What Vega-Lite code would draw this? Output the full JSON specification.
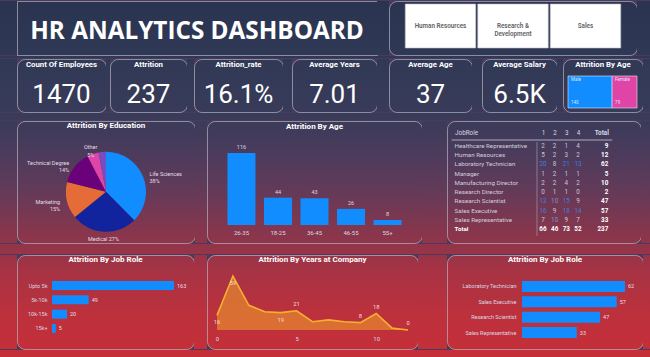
{
"$schema": "https://vega.github.io/schema/vega-lite/v6.json",
"padding": 0,
"background": "#4a3b5c",
"spacing": 0,
"resolve": {"scale": {"color": "independent", "x": "independent", "y": "independent"}},
"config": {
  "font": "Roboto",
  "view": {"stroke": "#ffffff", "strokeOpacity": 0.42, "strokeWidth": 1, "cornerRadius": 8},
  "axis": {"domain": false, "ticks": false, "grid": false, "labelColor": "#d8d8e2", "labelFontSize": 6, "labelFont": "Roboto"},
  "title": {"color": "#ffffff", "fontSize": 8, "fontWeight": "bold", "font": "Roboto", "anchor": "middle", "baseline": "middle", "frame": "group"},
  "text": {"color": "#d8d8e2", "fontSize": 6, "font": "Roboto"}
},
"vconcat": [
  {"spacing": 0, "bounds": "flush", "resolve": {"scale": {"color": "independent", "x": "independent", "y": "independent"}}, "hconcat": [
    {"width": 17, "height": 54, "data": {"values": []}, "mark": "point", "view": {"stroke": null, "cornerRadius": 0, "fill": {"gradient":"linear","x1":0,"y1":0,"x2":0,"y2":1,"stops":[{"offset":0,"color":"#2a3450"},{"offset":1,"color":"#2f3854"}]}}},
    {"width": 360, "height": 54, "view": {"stroke": "#ffffff", "strokeOpacity": 0.42, "fill": {"gradient":"linear","x1":0,"y1":0,"x2":0,"y2":1,"stops":[{"offset":0,"color":"#2a3450"},{"offset":1,"color":"#2f3854"}]}},
     "data": {"values": [{"title": "HR ANALYTICS DASHBOARD"}]},
     "layer": [{"mark": {"type": "text", "font": "Open Sans", "fontSize": 24.3, "fontWeight": "bold", "color": "#ffffff", "baseline": "middle", "dy": 4},
     "encoding": {"text": {"field": "title"}}}]},
    {"width": 12, "height": 54, "data": {"values": []}, "mark": "point", "view": {"stroke": null, "cornerRadius": 0, "fill": {"gradient":"linear","x1":0,"y1":0,"x2":0,"y2":1,"stops":[{"offset":0,"color":"#2a3450"},{"offset":1,"color":"#2f3854"}]}}},
    {"width": 248, "height": 54, "view": {"fill": {"gradient":"linear","x1":0,"y1":0,"x2":0,"y2":1,"stops":[{"offset":0,"color":"#2a3450"},{"offset":1,"color":"#2f3854"}]}},
     "data": {"values": [
       {"department": "Human Resources", "label": "Human Resources"},
       {"department": "Research & Development", "label": "Research &\nDevelopment"},
       {"department": "Sales", "label": "Sales"}]},
     "encoding": {
       "x": {"field": "department", "type": "nominal", "sort": null, "scale": {"paddingInner": 0.0276, "paddingOuter": 0.224}, "axis": null},
       "y": {"datum": "slicer", "type": "nominal", "scale": {"paddingInner": 0, "paddingOuter": 0.1136, "align": 0.3}, "axis": null}},
     "layer": [
       {"mark": {"type": "rect", "fill": "#ffffff", "stroke": "#b8bcc6", "strokeWidth": 0.6}},
       {"mark": {"type": "text", "lineBreak": "\n", "fontSize": 6.3, "fontWeight": 600, "color": "#5f5f66"}, "encoding": {"text": {"field": "label"}}}
     ]},
    {"width": 13, "height": 54, "data": {"values": []}, "mark": "point", "view": {"stroke": null, "cornerRadius": 0, "fill": {"gradient":"linear","x1":0,"y1":0,"x2":0,"y2":1,"stops":[{"offset":0,"color":"#2a3450"},{"offset":1,"color":"#2f3854"}]}}}
  ]},
  {"width": 650, "height": 2, "data": {"values": []}, "mark": "point", "view": {"stroke": null, "cornerRadius": 0, "fill": "#2f3854"}},
  {"spacing": 0, "bounds": "flush", "resolve": {"scale": {"color": "independent", "x": "independent", "y": "independent"}}, "hconcat": [
    {"width": 17, "height": 53, "data": {"values": []}, "mark": "point", "view": {"stroke": null, "cornerRadius": 0, "fill": {"gradient":"linear","x1":0,"y1":0,"x2":0,"y2":1,"stops":[{"offset":0,"color":"#303955"},{"offset":1,"color":"#383b59"}]}}},
    {"width": 89, "height": 53, "view": {"stroke": "#ffffff", "strokeOpacity": 0.42, "fill": {"gradient":"linear","x1":0,"y1":0,"x2":0,"y2":1,"stops":[{"offset":0,"color":"#303955"},{"offset":1,"color":"#383b59"}]}},
     "title": {"text": "Count Of Employees", "offset": -9.5, "fontSize": 7.8},
     "data": {"values": [{"measure": "Count Of Employees", "value": 1470}]},
     "layer": [{"mark": {"type": "text", "fontSize": 26, "color": "#ffffff", "baseline": "alphabetic", "dy": 17.5},
     "encoding": {"y": {"datum": "kpi", "type": "nominal", "axis": null}, "text": {"field": "value", "type": "quantitative", "format": "d"}}}]},
    {"width": 4, "height": 53, "data": {"values": []}, "mark": "point", "view": {"stroke": null, "cornerRadius": 0, "fill": {"gradient":"linear","x1":0,"y1":0,"x2":0,"y2":1,"stops":[{"offset":0,"color":"#303955"},{"offset":1,"color":"#383b59"}]}}},
    {"width": 77, "height": 53, "view": {"stroke": "#ffffff", "strokeOpacity": 0.42, "fill": {"gradient":"linear","x1":0,"y1":0,"x2":0,"y2":1,"stops":[{"offset":0,"color":"#303955"},{"offset":1,"color":"#383b59"}]}},
     "title": {"text": "Attrition", "offset": -9.5, "fontSize": 7.8},
     "data": {"values": [{"measure": "Attrition", "value": 237}]},
     "layer": [{"mark": {"type": "text", "fontSize": 26, "color": "#ffffff", "baseline": "alphabetic", "dy": 17.5},
     "encoding": {"y": {"datum": "kpi", "type": "nominal", "axis": null}, "text": {"field": "value", "type": "quantitative", "format": "d"}}}]},
    {"width": 7, "height": 53, "data": {"values": []}, "mark": "point", "view": {"stroke": null, "cornerRadius": 0, "fill": {"gradient":"linear","x1":0,"y1":0,"x2":0,"y2":1,"stops":[{"offset":0,"color":"#303955"},{"offset":1,"color":"#383b59"}]}}},
    {"width": 89, "height": 53, "view": {"stroke": "#ffffff", "strokeOpacity": 0.42, "fill": {"gradient":"linear","x1":0,"y1":0,"x2":0,"y2":1,"stops":[{"offset":0,"color":"#303955"},{"offset":1,"color":"#383b59"}]}},
     "title": {"text": "Attrition_rate", "offset": -9.5, "fontSize": 7.8},
     "data": {"values": [{"measure": "Attrition_rate", "value": 0.161}]},
     "layer": [{"mark": {"type": "text", "fontSize": 26, "color": "#ffffff", "baseline": "alphabetic", "dy": 17.5},
     "encoding": {"y": {"datum": "kpi", "type": "nominal", "axis": null}, "text": {"field": "value", "type": "quantitative", "format": ".1%"}}}]},
    {"width": 9, "height": 53, "data": {"values": []}, "mark": "point", "view": {"stroke": null, "cornerRadius": 0, "fill": {"gradient":"linear","x1":0,"y1":0,"x2":0,"y2":1,"stops":[{"offset":0,"color":"#303955"},{"offset":1,"color":"#383b59"}]}}},
    {"width": 85, "height": 53, "view": {"stroke": "#ffffff", "strokeOpacity": 0.42, "fill": {"gradient":"linear","x1":0,"y1":0,"x2":0,"y2":1,"stops":[{"offset":0,"color":"#303955"},{"offset":1,"color":"#383b59"}]}},
     "title": {"text": "Average Years", "offset": -9.5, "fontSize": 7.8},
     "data": {"values": [{"measure": "Average Years", "value": 7.01}]},
     "layer": [{"mark": {"type": "text", "fontSize": 26, "color": "#ffffff", "baseline": "alphabetic", "dy": 17.5},
     "encoding": {"y": {"datum": "kpi", "type": "nominal", "axis": null}, "text": {"field": "value", "type": "quantitative", "format": ".2f"}}}]},
    {"width": 12, "height": 53, "data": {"values": []}, "mark": "point", "view": {"stroke": null, "cornerRadius": 0, "fill": {"gradient":"linear","x1":0,"y1":0,"x2":0,"y2":1,"stops":[{"offset":0,"color":"#303955"},{"offset":1,"color":"#383b59"}]}}},
    {"width": 83, "height": 53, "view": {"stroke": "#ffffff", "strokeOpacity": 0.42, "fill": {"gradient":"linear","x1":0,"y1":0,"x2":0,"y2":1,"stops":[{"offset":0,"color":"#303955"},{"offset":1,"color":"#383b59"}]}},
     "title": {"text": "Average Age", "offset": -9.5, "fontSize": 7.8},
     "data": {"values": [{"measure": "Average Age", "value": 37}]},
     "layer": [{"mark": {"type": "text", "fontSize": 26, "color": "#ffffff", "baseline": "alphabetic", "dy": 17.5},
     "encoding": {"y": {"datum": "kpi", "type": "nominal", "axis": null}, "text": {"field": "value", "type": "quantitative", "format": "d"}}}]},
    {"width": 10, "height": 53, "data": {"values": []}, "mark": "point", "view": {"stroke": null, "cornerRadius": 0, "fill": {"gradient":"linear","x1":0,"y1":0,"x2":0,"y2":1,"stops":[{"offset":0,"color":"#303955"},{"offset":1,"color":"#383b59"}]}}},
    {"width": 75, "height": 53, "view": {"stroke": "#ffffff", "strokeOpacity": 0.42, "fill": {"gradient":"linear","x1":0,"y1":0,"x2":0,"y2":1,"stops":[{"offset":0,"color":"#303955"},{"offset":1,"color":"#383b59"}]}},
     "title": {"text": "Average Salary", "offset": -9.5, "fontSize": 7.8},
     "data": {"values": [{"measure": "Average Salary", "value": 6500}]},
     "layer": [{"mark": {"type": "text", "fontSize": 26, "color": "#ffffff", "baseline": "alphabetic", "dy": 17.5, "text": {"expr": "upper(format(datum.value, '.2~s'))"}},
     "encoding": {"y": {"datum": "kpi", "type": "nominal", "axis": null}}}]},
    {"width": 6, "height": 53, "data": {"values": []}, "mark": "point", "view": {"stroke": null, "cornerRadius": 0, "fill": {"gradient":"linear","x1":0,"y1":0,"x2":0,"y2":1,"stops":[{"offset":0,"color":"#303955"},{"offset":1,"color":"#383b59"}]}}},
    {"width": 80, "height": 53, "view": {"fill": {"gradient":"linear","x1":0,"y1":0,"x2":0,"y2":1,"stops":[{"offset":0,"color":"#303955"},{"offset":1,"color":"#383b59"}]}},
     "title": {"text": "Attrition By Age", "offset": -9.5, "fontSize": 7.8},
     "data": {"values": [{"gender": "Male", "attrition": 140}, {"gender": "Female", "attrition": 79}]},
     "transform": [{"stack": "attrition", "groupby": [], "sort": [{"field": "gender", "order": "descending"}], "as": ["x0", "x1"]}],
     "encoding": {
       "y": {"datum": "Attrition", "type": "nominal", "scale": {"paddingInner": 0, "paddingOuter": 0.328, "align": 0.81}, "axis": null},
       "x": {"field": "x0", "type": "quantitative", "scale": {"domain": [-15.9, 238], "nice": false, "zero": false}, "axis": null}},
     "layer": [
       {"mark": {"type": "bar", "stroke": "#e8e8f0", "strokeWidth": 0.6}, "encoding": {"x2": {"field": "x1"}, "color": {"field": "gender", "type": "nominal", "scale": {"domain": ["Male", "Female"], "range": ["#118DFF", "#E044A7"]}, "legend": null}}},
       {"mark": {"type": "text", "align": "left", "dx": 3, "dy": -12, "fontSize": 4.5, "color": "#dce8ff"}, "encoding": {"text": {"field": "gender"}}},
       {"mark": {"type": "text", "align": "left", "dx": 3, "dy": 11, "fontSize": 4.5, "color": "#dce8ff"}, "encoding": {"text": {"field": "attrition"}}}
     ]},
    {"width": 7, "height": 53, "data": {"values": []}, "mark": "point", "view": {"stroke": null, "cornerRadius": 0, "fill": {"gradient":"linear","x1":0,"y1":0,"x2":0,"y2":1,"stops":[{"offset":0,"color":"#303955"},{"offset":1,"color":"#383b59"}]}}}
  ]},
  {"width": 650, "height": 7, "data": {"values": []}, "mark": "point", "view": {"stroke": null, "cornerRadius": 0, "fill": {"gradient":"linear","x1":0,"y1":0,"x2":0,"y2":1,"stops":[{"offset":0,"color":"#383b59"},{"offset":1,"color":"#3b3b5a"}]}}},
  {"spacing": 0, "bounds": "flush", "resolve": {"scale": {"color": "independent", "x": "independent", "y": "independent"}}, "hconcat": [
    {"width": 17, "height": 122, "data": {"values": []}, "mark": "point", "view": {"stroke": null, "cornerRadius": 0, "fill": {"gradient":"linear","x1":0,"y1":0,"x2":0,"y2":1,"stops":[{"offset":0,"color":"#3b3b5a"},{"offset":0.238,"color":"#4a3b5c"},{"offset":0.566,"color":"#633a59"},{"offset":0.893,"color":"#86364d"},{"offset":1,"color":"#90354a"}]}}},
    {"width": 178, "height": 122, "view": {"stroke": "#ffffff", "strokeOpacity": 0.42, "fill": {"gradient":"linear","x1":0,"y1":0,"x2":0,"y2":1,"stops":[{"offset":0,"color":"#3b3b5a"},{"offset":0.238,"color":"#4a3b5c"},{"offset":0.566,"color":"#633a59"},{"offset":0.893,"color":"#86364d"},{"offset":1,"color":"#90354a"}]}},
     "title": {"text": "Attrition By Education", "offset": -8.5},
     "data": {"values": [
       {"education": "Life Sciences", "attrition": 89, "label": "Life Sciences\n38%"},
       {"education": "Medical", "attrition": 63, "label": "Medical 27%"},
       {"education": "Marketing", "attrition": 35, "label": "Marketing\n15%"},
       {"education": "Technical Degree", "attrition": 32, "label": "Technical Degree\n14%"},
       {"education": "Other", "attrition": 11, "label": "Other\n5%"},
       {"education": "Human Resources", "attrition": 7, "label": ""}]},
     "encoding": {
       "y": {"datum": "pie", "type": "nominal", "scale": {"paddingInner": 0, "paddingOuter": 0.5, "align": 0.58}, "axis": null},
       "theta": {"field": "attrition", "type": "quantitative", "stack": true},
       "order": {"field": "attrition", "type": "quantitative", "sort": "descending"}},
     "layer": [
       {"mark": {"type": "arc", "outerRadius": 40},
        "encoding": {"color": {"field": "education", "type": "nominal", "scale": {"domain": ["Life Sciences", "Medical", "Marketing", "Technical Degree", "Other", "Human Resources"], "range": ["#118DFF", "#12239E", "#E66C37", "#6B007B", "#E044A7", "#744EC2"]}, "legend": null}}},
       {"mark": {"type": "text", "radius": 47, "lineBreak": "\n", "fontSize": 5.5, "color": "#e2dde8", "baseline": "middle",
          "align": {"expr": "(datum.attrition_start + datum.attrition_end) / 474 < 0.45 ? 'left' : ((datum.attrition_start + datum.attrition_end) / 474 < 0.56 ? 'center' : ((datum.attrition_start + datum.attrition_end) / 474 < 0.9 ? 'right' : 'center'))"}},
        "encoding": {"text": {"field": "label"}}}
     ]},
    {"width": 12, "height": 122, "data": {"values": []}, "mark": "point", "view": {"stroke": null, "cornerRadius": 0, "fill": {"gradient":"linear","x1":0,"y1":0,"x2":0,"y2":1,"stops":[{"offset":0,"color":"#3b3b5a"},{"offset":0.238,"color":"#4a3b5c"},{"offset":0.566,"color":"#633a59"},{"offset":0.893,"color":"#86364d"},{"offset":1,"color":"#90354a"}]}}},
    {"width": 215, "height": 122, "view": {"fill": {"gradient":"linear","x1":0,"y1":0,"x2":0,"y2":1,"stops":[{"offset":0,"color":"#3b3b5a"},{"offset":0.238,"color":"#4a3b5c"},{"offset":0.566,"color":"#633a59"},{"offset":0.893,"color":"#86364d"},{"offset":1,"color":"#90354a"}]}},
     "title": {"text": "Attrition By Age", "offset": -10},
     "data": {"values": [
       {"age": "18-25", "attrition": 44}, {"age": "26-35", "attrition": 116}, {"age": "36-45", "attrition": 43},
       {"age": "46-55", "attrition": 26}, {"age": "55+", "attrition": 8}]},
     "encoding": {
       "x": {"field": "age", "type": "nominal", "sort": "-y", "scale": {"paddingInner": 0.233, "paddingOuter": 0.56}, "axis": {"title": null, "labelAngle": 0, "offset": -16, "labelPadding": 2}},
       "y": {"field": "attrition", "type": "quantitative", "scale": {"domain": [-29, 167.5], "nice": false}, "axis": null}},
     "layer": [
       {"mark": {"type": "bar", "color": "#118DFF"}},
       {"mark": {"type": "text", "dy": -3, "baseline": "bottom", "fontSize": 5.5, "color": "#dcd8e2"}, "encoding": {"text": {"field": "attrition"}}}
     ]},
    {"width": 25, "height": 122, "data": {"values": []}, "mark": "point", "view": {"stroke": null, "cornerRadius": 0, "fill": {"gradient":"linear","x1":0,"y1":0,"x2":0,"y2":1,"stops":[{"offset":0,"color":"#3b3b5a"},{"offset":0.238,"color":"#4a3b5c"},{"offset":0.566,"color":"#633a59"},{"offset":0.893,"color":"#86364d"},{"offset":1,"color":"#90354a"}]}}},
    {"width": 194, "height": 122, "view": {"fill": {"gradient":"linear","x1":0,"y1":0,"x2":0,"y2":1,"stops":[{"offset":0,"color":"#3b3b5a"},{"offset":0.238,"color":"#4a3b5c"},{"offset":0.566,"color":"#633a59"},{"offset":0.893,"color":"#86364d"},{"offset":1,"color":"#90354a"}]}},
     "data": {"values": [
       {"role": "Healthcare Representative", "1": 2, "2": 2, "3": 1, "4": 4, "Total": 9},
       {"role": "Human Resources", "1": 5, "2": 2, "3": 3, "4": 2, "Total": 12},
       {"role": "Laboratory Technician", "1": 20, "2": 8, "3": 21, "4": 13, "Total": 62},
       {"role": "Manager", "1": 1, "2": 2, "3": 1, "4": 1, "Total": 5},
       {"role": "Manufacturing Director", "1": 2, "2": 2, "3": 4, "4": 2, "Total": 10},
       {"role": "Research Director", "1": 0, "2": 1, "3": 1, "4": 0, "Total": 2},
       {"role": "Research Scientist", "1": 13, "2": 10, "3": 15, "4": 9, "Total": 47},
       {"role": "Sales Executive", "1": 16, "2": 9, "3": 18, "4": 14, "Total": 57},
       {"role": "Sales Representative", "1": 7, "2": 10, "3": 9, "4": 7, "Total": 33},
       {"role": "Total", "1": 66, "2": 46, "3": 73, "4": 52, "Total": 237}]},
     "encoding": {
       "x": {"field": "col", "type": "nominal",
             "scale": {"type": "point", "domain": ["JobRole", "_a", "_b", "_c", "_d", "_e", "_f", "_g", "1", "2", "3", "4", "_h", "Total"], "padding": 0, "range": [2.6, 154.3]},
             "axis": {"orient": "top", "offset": -19, "labelPadding": 5, "labelAngle": 0, "title": null, "labelOverlap": false, "labelBound": false, "labelFontSize": 6.3, "labelColor": "#d8d8e0",
                      "labelExpr": "indexof(datum.value, '_') == 0 ? '' : datum.value",
                      "labelAlign": {"condition": {"test": "datum.value == 'JobRole'", "value": "left"}, "value": "center"},
                      "labelOffset": {"condition": {"test": "datum.value == 'JobRole'", "value": 5}, "value": 0},
                      "labelFontWeight": {"condition": {"test": "datum.value == 'Total'", "value": "bold"}, "value": "normal"}}},
       "y": {"field": "role", "type": "nominal",
             "scale": {"type": "point", "domain": ["Healthcare Representative", "Human Resources", "Laboratory Technician", "Manager", "Manufacturing Director", "Research Director", "Research Scientist", "Sales Executive", "Sales Representative", "Total"], "padding": 0, "range": [25, 108]},
             "axis": null}},
     "layer": [
       {"data": {"values": [{"line": "header"}]},
        "mark": {"type": "rule", "color": "#c8c8d2", "strokeWidth": 0.8, "xOffset": 2, "x2Offset": 11, "yOffset": -6},
        "encoding": {"x": {"datum": "JobRole", "type": "nominal"}, "x2": {"datum": "Total"}, "y": {"datum": "Healthcare Representative", "type": "nominal"}}},
       {"data": {"values": [{"line": "divider"}]},
        "mark": {"type": "rule", "color": "#9a9aaa", "strokeWidth": 0.7, "xOffset": 5.7, "yOffset": -4, "y2Offset": 7},
        "encoding": {"x": {"datum": "_g", "type": "nominal"}, "y": {"datum": "Healthcare Representative", "type": "nominal"}, "y2": {"datum": "Total"}}},
       {"transform": [{"filter": "datum.role != 'Total'"}],
        "mark": {"type": "text", "align": "left", "dx": 5, "fontSize": 6.2, "color": "#d0d0da"},
        "encoding": {"x": {"datum": "JobRole", "type": "nominal"}, "text": {"field": "role"}}},
       {"transform": [{"filter": "datum.role == 'Total'"}],
        "mark": {"type": "text", "align": "left", "dx": 5, "fontSize": 6.2, "fontWeight": "bold", "color": "#ffffff"},
        "encoding": {"x": {"datum": "JobRole", "type": "nominal"}, "text": {"field": "role"}}},
       {"transform": [{"fold": ["1", "2", "3", "4", "Total"], "as": ["col", "n"]}, {"filter": "datum.col != 'Total' && datum.role != 'Total'"}],
        "mark": {"type": "text", "fontSize": 6.3},
        "encoding": {"text": {"field": "n", "type": "quantitative"},
                     "color": {"condition": [{"test": "datum.n >= 13", "value": "#3d7edb"}, {"test": "datum.n >= 10", "value": "#8092c6"}], "value": "#c9c9d3"}}},
       {"transform": [{"fold": ["1", "2", "3", "4", "Total"], "as": ["col", "n"]}, {"filter": "datum.role == 'Total' && datum.col != 'Total'"}],
        "mark": {"type": "text", "fontSize": 6.3, "fontWeight": "bold", "color": "#ffffff"},
        "encoding": {"text": {"field": "n", "type": "quantitative"}}},
       {"transform": [{"fold": ["1", "2", "3", "4", "Total"], "as": ["col", "n"]}, {"filter": "datum.col == 'Total'"}],
        "mark": {"type": "text", "fontSize": 6.3, "fontWeight": "bold", "color": "#ffffff", "align": "right", "dx": 7},
        "encoding": {"text": {"field": "n", "type": "quantitative"}}}
     ]},
    {"width": 9, "height": 122, "data": {"values": []}, "mark": "point", "view": {"stroke": null, "cornerRadius": 0, "fill": {"gradient":"linear","x1":0,"y1":0,"x2":0,"y2":1,"stops":[{"offset":0,"color":"#3b3b5a"},{"offset":0.238,"color":"#4a3b5c"},{"offset":0.566,"color":"#633a59"},{"offset":0.893,"color":"#86364d"},{"offset":1,"color":"#90354a"}]}}}
  ]},
  {"width": 650, "height": 10, "data": {"values": []}, "mark": "point", "view": {"stroke": null, "cornerRadius": 0, "fill": {"gradient":"linear","x1":0,"y1":0,"x2":0,"y2":1,"stops":[{"offset":0,"color":"#90354a"},{"offset":1,"color":"#993448"}]}}},
  {"spacing": 0, "bounds": "flush", "resolve": {"scale": {"color": "independent", "x": "independent", "y": "independent"}}, "hconcat": [
    {"width": 17, "height": 94, "data": {"values": []}, "mark": "point", "view": {"stroke": null, "cornerRadius": 0, "fill": {"gradient":"linear","x1":0,"y1":0,"x2":0,"y2":1,"stops":[{"offset":0,"color":"#993448"},{"offset":0.16,"color":"#a63344"},{"offset":0.585,"color":"#bb313d"},{"offset":1,"color":"#c42f39"}]}}},
    {"width": 177, "height": 94, "view": {"fill": {"gradient":"linear","x1":0,"y1":0,"x2":0,"y2":1,"stops":[{"offset":0,"color":"#993448"},{"offset":0.16,"color":"#a63344"},{"offset":0.585,"color":"#bb313d"},{"offset":1,"color":"#c42f39"}]}},
     "title": {"text": "Attrition By Job Role", "offset": -9},
     "data": {"values": [{"salary": "Upto 5k", "attrition": 163}, {"salary": "5k-10k", "attrition": 49}, {"salary": "10k-15k", "attrition": 20}, {"salary": "15k+", "attrition": 5}]},
     "encoding": {
       "y": {"field": "salary", "type": "nominal", "sort": "-x", "scale": {"paddingInner": 0.372, "paddingOuter": 0, "range": [26, 78]}, "axis": {"title": null, "offset": -32, "labelPadding": 2, "labelFontSize": 5.5}},
       "x": {"field": "attrition", "type": "quantitative", "scale": {"domain": [-46.8, 189.7], "nice": false}, "axis": null}},
     "layer": [
       {"mark": {"type": "bar", "color": "#118DFF"}},
       {"mark": {"type": "text", "align": "left", "dx": 3, "fontSize": 5.5, "color": "#eadfe2"}, "encoding": {"text": {"field": "attrition"}}}
     ]},
    {"width": 13, "height": 94, "data": {"values": []}, "mark": "point", "view": {"stroke": null, "cornerRadius": 0, "fill": {"gradient":"linear","x1":0,"y1":0,"x2":0,"y2":1,"stops":[{"offset":0,"color":"#993448"},{"offset":0.16,"color":"#a63344"},{"offset":0.585,"color":"#bb313d"},{"offset":1,"color":"#c42f39"}]}}},
    {"width": 211, "height": 94, "view": {"fill": {"gradient":"linear","x1":0,"y1":0,"x2":0,"y2":1,"stops":[{"offset":0,"color":"#993448"},{"offset":0.16,"color":"#a63344"},{"offset":0.585,"color":"#bb313d"},{"offset":1,"color":"#c42f39"}]}},
     "title": {"text": "Attrition By Years at Company", "offset": -9},
     "data": {"values": [
       {"years": 0, "attrition": 16}, {"years": 1, "attrition": 59}, {"years": 2, "attrition": 27}, {"years": 3, "attrition": 20},
       {"years": 4, "attrition": 19}, {"years": 5, "attrition": 21}, {"years": 6, "attrition": 9}, {"years": 7, "attrition": 11},
       {"years": 8, "attrition": 9}, {"years": 9, "attrition": 8}, {"years": 10, "attrition": 18}, {"years": 11, "attrition": 2},
       {"years": 12, "attrition": 0}]},
     "encoding": {
       "x": {"field": "years", "type": "quantitative", "scale": {"domain": [-0.628, 12.626], "nice": false, "zero": false}, "axis": {"values": [0, 5, 10], "title": null, "offset": -16, "labelPadding": 2, "labelFlush": false}},
       "y": {"field": "attrition", "type": "quantitative", "scale": {"domain": [-20.8, 82], "nice": false}, "axis": null}},
     "layer": [
       {"mark": {"type": "area", "color": "#F2A22C", "opacity": 0.55}},
       {"mark": {"type": "line", "color": "#F7B02E", "strokeWidth": 1.6}},
       {"transform": [{"filter": {"field": "years", "oneOf": [5, 9, 10, 12]}}], "mark": {"type": "text", "dy": -7, "fontSize": 5.8, "color": "#f3dcd0"}, "encoding": {"text": {"field": "attrition"}}},
       {"transform": [{"filter": {"field": "years", "oneOf": [0, 1, 4]}}], "mark": {"type": "text", "dy": 7, "fontSize": 5.8, "color": "#f3dcd0"}, "encoding": {"text": {"field": "attrition"}}}
     ]},
    {"width": 29, "height": 94, "data": {"values": []}, "mark": "point", "view": {"stroke": null, "cornerRadius": 0, "fill": {"gradient":"linear","x1":0,"y1":0,"x2":0,"y2":1,"stops":[{"offset":0,"color":"#993448"},{"offset":0.16,"color":"#a63344"},{"offset":0.585,"color":"#bb313d"},{"offset":1,"color":"#c42f39"}]}}},
    {"width": 196, "height": 94, "view": {"fill": {"gradient":"linear","x1":0,"y1":0,"x2":0,"y2":1,"stops":[{"offset":0,"color":"#993448"},{"offset":0.16,"color":"#a63344"},{"offset":0.585,"color":"#bb313d"},{"offset":1,"color":"#c42f39"}]}},
     "title": {"text": "Attrition By Job Role", "offset": -9},
     "data": {"values": [{"role": "Laboratory Technician", "attrition": 62}, {"role": "Sales Executive", "attrition": 57}, {"role": "Research Scientist", "attrition": 47}, {"role": "Sales Representative", "attrition": 33}]},
     "encoding": {
       "y": {"field": "role", "type": "nominal", "sort": "-x", "scale": {"paddingInner": 0.283, "paddingOuter": 0, "range": [26, 83]}, "axis": {"title": null, "offset": -71, "labelPadding": 2, "labelFontSize": 5.5}},
       "x": {"field": "attrition", "type": "quantitative", "scale": {"domain": [-45.15, 72.85], "nice": false}, "axis": null}},
     "layer": [
       {"mark": {"type": "bar", "color": "#118DFF"}},
       {"mark": {"type": "text", "align": "left", "dx": 3, "fontSize": 5.5, "color": "#eadfe2"}, "encoding": {"text": {"field": "attrition"}}}
     ]},
    {"width": 7, "height": 94, "data": {"values": []}, "mark": "point", "view": {"stroke": null, "cornerRadius": 0, "fill": {"gradient":"linear","x1":0,"y1":0,"x2":0,"y2":1,"stops":[{"offset":0,"color":"#993448"},{"offset":0.16,"color":"#a63344"},{"offset":0.585,"color":"#bb313d"},{"offset":1,"color":"#c42f39"}]}}}
  ]},
  {"width": 650, "height": 7, "data": {"values": []}, "mark": "point", "view": {"stroke": null, "cornerRadius": 0, "fill": {"gradient":"linear","x1":0,"y1":0,"x2":0,"y2":1,"stops":[{"offset":0,"color":"#c42f39"},{"offset":1,"color":"#c62f38"}]}}}
]
}
